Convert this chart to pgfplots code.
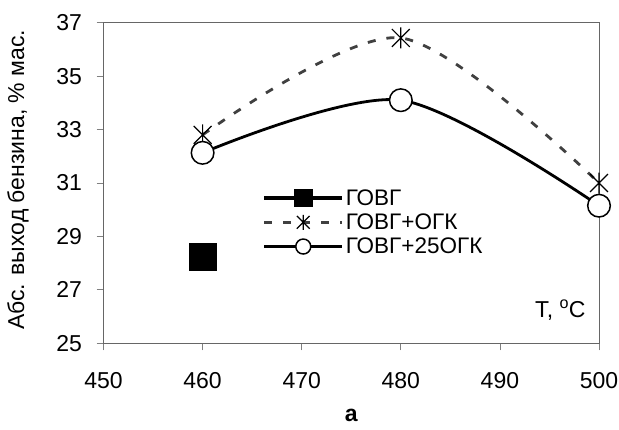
\documentclass[border=0pt]{standalone}
\usepackage{fontspec}
\setmainfont{Liberation Sans}
\usepackage{pgfplots}
\pgfplotsset{compat=1.18}
\usetikzlibrary{calc}

% asterisk as drawn by the original: an X with a vertical bar
\pgfdeclareplotmark{xast}{%
  \pgfpathmoveto{\pgfpoint{0pt}{\pgfplotmarksize}}%
  \pgfpathlineto{\pgfpoint{0pt}{-\pgfplotmarksize}}%
  \pgfpathmoveto{\pgfpoint{-0.85\pgfplotmarksize}{0.85\pgfplotmarksize}}%
  \pgfpathlineto{\pgfpoint{0.85\pgfplotmarksize}{-0.85\pgfplotmarksize}}%
  \pgfpathmoveto{\pgfpoint{-0.85\pgfplotmarksize}{-0.85\pgfplotmarksize}}%
  \pgfpathlineto{\pgfpoint{0.85\pgfplotmarksize}{0.85\pgfplotmarksize}}%
  \pgfusepathqstroke}

\pgfplotsset{
  legline/.style={legend image code/.code={%
    \draw[mark repeat=2,mark phase=2,mark size=#1]
      plot coordinates {(0bp,0bp)(39bp,0bp)(78bp,0bp)};}},
}

\begin{document}
\begin{tikzpicture}
\begin{axis}[
    name=ax,
    scale only axis,
    width=495.5bp, height=320.6bp,
    xmin=450, xmax=500, ymin=25, ymax=37,
    xtick={450,460,...,500},
    ytick={25,27,...,37},
    tick pos=left,
    tick align=outside,
    major tick length=7bp,
    tick style={gray, line width=0.8bp},
    axis line style={gray!80!black, line width=0.9bp},
    /pgf/number format/assume math mode=true,
    /pgf/number format/1000 sep={},
    ticklabel style={font=\fontsize{23bp}{26bp}\selectfont},
    xticklabel style={yshift=-19bp},
    yticklabel style={xshift=-11bp},
    ylabel={Абс. выход бензина, \% мас.},
    ylabel style={at={(rel axis cs:0,0.51)}, yshift=85.5bp, anchor=center,
                  font=\fontsize{23bp}{26bp}\selectfont},
    xlabel={\textbf{а}},
    xlabel style={at={(rel axis cs:0.5,0)}, yshift=-72bp, anchor=center,
                  font=\fontsize{23bp}{26bp}\selectfont},
    legend style={draw=none, fill=none, at={(rel axis cs:0.32,0.485)},
                  anchor=north west, inner sep=0pt, row sep=4bp,
                  font=\fontsize{22.5bp}{26bp}\selectfont,
                  nodes={inner sep=1.5bp}},
    legend cell align=left,
]
\addplot[black, line width=4bp, mark=square*, mark size=12bp, legline=7.3bp]
  coordinates {(460,28.22)};
\addlegendentry{ГОВГ}
\addplot[black!75, line width=2.8bp, dash pattern=on 8bp off 11bp, smooth,
         mark=xast, mark size=10.5bp,
         mark options={solid, black, line width=1.2bp}, legline=7.5bp]
  coordinates {(460,32.8) (480,36.43) (500,31.0)};
\addlegendentry{ГОВГ+ОГК}
\addplot[black, line width=2.8bp, smooth, mark=*, mark size=11.3bp,
         mark options={fill=white, draw=black, line width=1.5bp}, legline=7.5bp]
  coordinates {(460,32.13) (480,34.1) (500,30.15)};
\addlegendentry{ГОВГ+25ОГК}
\node[anchor=base east, font=\fontsize{23bp}{26bp}\selectfont]
  at (rel axis cs:0.98,0.08) {T, \textsuperscript{o}C};
\end{axis}
\pgfresetboundingbox
\path[use as bounding box] ($(ax.south west)+(-103.5bp,-85.7bp)$)
  rectangle ($(ax.north east)+(20bp,22.7bp)$);
\end{tikzpicture}
\end{document}
